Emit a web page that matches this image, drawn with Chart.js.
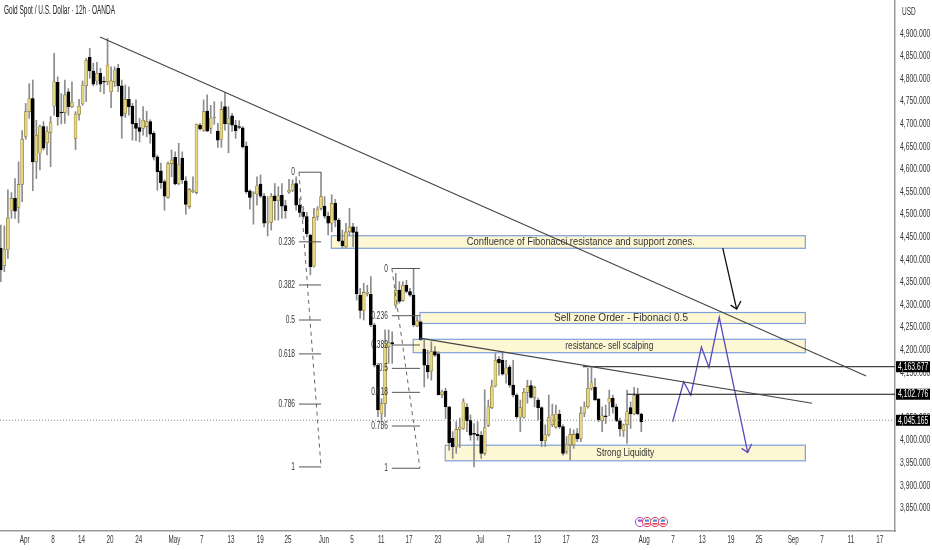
<!DOCTYPE html>
<html>
<head>
<meta charset="utf-8">
<title>Gold Spot / U.S. Dollar</title>
<script src="https://cdn.jsdelivr.net/npm/chart.js@4/dist/chart.umd.min.js"></script>
<style>
  html, body { margin: 0; padding: 0; background: #fff; }
  canvas { display: block; }
</style>
</head>
<body>
<canvas id="goldChart" width="932" height="550"></canvas>
<script>
const FONT = '"Liberation Sans", sans-serif';

// 12h candles
const opens = [4426,4387,4423,4510,4536,4516,4567,4673,4728,4757,
  4617,4636,4695,4659,4681,4740,4793,4727,4726,4772,
  4739,4669,4722,4745,4785,4848,4818,4796,4813,4795,
  4794,4772,4794,4824,4785,4724,4755,4740,4702,4693,
  4691,4695,4706,4680,4628,4597,4573,4538,4613,4627,
  4569,4625,4575,4518,4551,4549,4698,4687,4729,4691,
  4714,4685,4667,4739,4702,4719,4698,4694,4692,4652,
  4553,4546,4546,4568,4541,4482,4483,4542,4531,4543,
  4520,4550,4554,4569,4521,4505,4496,4455,4386,4496,
  4514,4519,4497,4481,4525,4488,4442,4429,4462,4473,
  4462,4322,4288,4326,4324,4256,4167,4059,4082,4208,
  4217,4300,4333,4310,4344,4330,4322,4254,4263,4202,
  4167,4154,4197,4192,4102,4110,4075,4005,3986,4025,
  4027,4074,4045,4016,4014,4012,3972,4034,4073,4121,
  4180,4178,4147,4163,4123,4101,4052,4052,4107,4122,
  4096,4090,4073,4000,4013,4035,4030,4059,4031,3976,
  3991,3991,4016,4005,4061,4075,4116,4118,4092,4044,
  4055,4085,4094,4075,4044,4022,4035,4073,4059,4101,4059];
const closes = [4378,4423,4493,4536,4508,4567,4667,4728,4757,4617,
  4676,4695,4647,4684,4704,4794,4717,4725,4765,4739,
  4748,4723,4740,4787,4842,4818,4789,4813,4789,4793,
  4831,4796,4820,4785,4718,4755,4739,4701,4691,4684,
  4709,4706,4678,4627,4595,4571,4541,4613,4621,4568,
  4611,4577,4523,4556,4553,4700,4690,4728,4685,4714,
  4716,4665,4733,4701,4714,4698,4686,4693,4650,4551,
  4538,4547,4564,4541,4481,4483,4541,4531,4542,4519,
  4509,4554,4568,4521,4505,4496,4458,4385,4494,4512,
  4540,4497,4481,4525,4488,4442,4431,4462,4473,4461,
  4325,4288,4328,4327,4256,4167,4068,4082,4215,4217,
  4214,4333,4308,4344,4330,4322,4256,4265,4224,4167,
  4152,4197,4189,4102,4108,4075,3995,3986,4025,4030,
  4086,4044,4012,4014,4011,3972,4029,4075,4121,4178,
  4172,4147,4161,4123,4101,4053,4073,4107,4120,4096,
  4118,4073,4000,4013,4051,4057,4059,4031,3972,3991,
  4014,4014,4004,4061,4075,4116,4128,4090,4046,4055,
  4053,4094,4074,4044,4026,4035,4064,4059,4100,4059,4042];
const highs = [4477,4475,4555,4549,4580,4617,4686,4746,4790,4798,
  4709,4698,4706,4695,4717,4857,4805,4768,4798,4779,
  4794,4728,4755,4796,4846,4868,4835,4837,4824,4805,
  4890,4827,4827,4833,4798,4787,4783,4746,4754,4713,
  4739,4729,4710,4684,4632,4614,4577,4617,4643,4639,
  4658,4639,4584,4558,4584,4701,4702,4754,4765,4742,
  4750,4702,4750,4771,4739,4724,4709,4708,4695,4661,
  4555,4551,4584,4588,4547,4540,4547,4569,4562,4569,
  4532,4578,4577,4584,4536,4518,4505,4457,4514,4518,
  4594,4540,4506,4544,4534,4492,4466,4481,4514,4481,
  4473,4337,4348,4344,4363,4260,4171,4093,4245,4245,
  4241,4370,4352,4352,4355,4337,4381,4274,4265,4222,
  4200,4219,4208,4197,4112,4116,4076,4020,4042,4050,
  4093,4082,4057,4038,4042,4020,4113,4090,4134,4193,
  4186,4197,4178,4167,4178,4104,4090,4116,4134,4133,
  4121,4094,4075,4035,4101,4081,4079,4068,4035,4009,
  4027,4024,4027,4075,4086,4160,4162,4138,4094,4075,
  4079,4112,4101,4081,4050,4037,4112,4086,4118,4116,4061];
const lows = [4352,4374,4403,4492,4492,4482,4529,4667,4713,4553,
  4580,4599,4643,4632,4606,4720,4698,4701,4702,4720,
  4737,4644,4709,4742,4750,4802,4785,4787,4772,4768,
  4787,4737,4783,4772,4669,4715,4720,4665,4664,4661,
  4676,4672,4658,4621,4554,4558,4510,4536,4584,4566,
  4566,4569,4501,4514,4549,4546,4687,4684,4684,4680,
  4700,4649,4649,4687,4637,4684,4669,4690,4647,4547,
  4512,4479,4521,4538,4473,4453,4466,4488,4488,4492,
  4492,4547,4551,4510,4495,4490,4451,4367,4384,4488,
  4510,4492,4455,4462,4473,4440,4426,4426,4455,4429,
  4311,4271,4267,4320,4252,4163,4053,4042,4053,4171,
  4171,4293,4304,4308,4327,4319,4252,4252,4222,4119,
  4138,4134,4186,4101,4095,4049,3979,3961,3972,3985,
  4025,4020,4001,3942,4001,3961,3968,4031,4071,4119,
  4145,4145,4127,4118,4097,4049,4020,4050,4083,4094,
  4075,4046,3987,3987,4010,4031,4027,4027,3968,3971,
  3957,3983,3998,3998,4053,4072,4112,4089,4042,4020,
  4038,4055,4061,4042,4010,4009,3994,4027,4057,4057,4020];

// time axis, x in bar numbers
const tickBars = [6.7,14.7,22.7,30.7,38.8,48.8,56.5,64.7,72.9,80.7,90.8,98.7,106.9,114.7,122.9,134.7,142.7,150.8,158.9,167,180.8,188.9,197.1,205.2,213.1,222.7,230.8,238.9,247];
const tickLabels = ['Apr','8','14','20','24','May','7','13','19','25','Jun','5','11','17','23','Jul','7','13','17','23','Aug','7','13','19','25','Sep','7','11','17'];

// drawn lines: bar number, price
const trendUpper = [[27.9,4893],[243.2,4143]];
const trendLower = [[117.8,4227],[228,4083]];
const levelHigh = [[163.6,4163.677],[251.3,4163.677]];
const levelMid = [[176,4102.776],[251.3,4102.776]];
const lastPrice = 4045.165;
const arrowShaft = [[202.9,4426],[206.8,4291]];
const arrowHead = [[205.1,4300],[206.8,4291],[208,4309]];
const projection = [[188.8,4042],[191.9,4130.5],[193.9,4101],[196.9,4207],[199,4162],[201.9,4273],[209.9,3974]];
const projectionHead = [[208.2,3983],[209.9,3974],[211,3993]];

// fib tools
const fibLeftBars = [83.8,90];
const fibLeftLabels = ['0','0.236','0.382','0.5','0.618','0.786','1'];
const fibLeftPrices = [4594,4440,4344.5,4267,4192,4081,3942];
const fibRightBars = [109.9,117.8];
const fibRightLabels = ['0','0.236','0.382','0.5','0.618','0.786','1'];
const fibRightPrices = [4381,4276.5,4211.7,4160,4107,4032.5,3939];

// zones
const zoneLabels = ['Confluence of Fibonacci resistance and support zones.','Sell zone Order - Fibonaci 0.5','resistance- sell scalping','Strong Liquidity'];
const zoneStart = [92.9,117.8,115.9,124.9];
const zoneEnd = [226.1,226.1,226.1,226.1];
const zoneTop = [4453.5,4283.6,4224.3,3990];
const zoneBottom = [4425.7,4259.3,4194.7,3955.5];
const zoneTextBar = [163,174.3,171,175.5];
const zoneTextWidth = [228,134,88,58];

const badgePrices = [4163.677,4102.776,4045.165];

const bars = opens.map((_, i) => i);
const pts = a => a.map(p => ({ x: p[0], y: p[1] }));
const money = v => v.toLocaleString('en-US', { minimumFractionDigits: 3 });

// no condensed face is installed, so squeeze with fillText's maxWidth
function narrow(ctx, text, x, y, factor) {
  ctx.fillText(text, x, y, ctx.measureText(text).width * factor);
}

function line(points, color, width, dash) {
  return {
    type: 'line', data: pts(points), borderColor: color, borderWidth: width,
    borderDash: dash || [], pointRadius: 0, tension: 0, fill: false, order: 0
  };
}

const fibLines = (fibBars, prices) => prices.map(p => line([[fibBars[0], p], [fibBars[1], p]], '#555', 1));

// zones go under the candles
const zonePlugin = {
  id: 'zones',
  beforeDatasetsDraw(chart) {
    const { ctx, scales: { x, y } } = chart;
    ctx.save();
    zoneLabels.forEach((_, i) => {
      const l = x.getPixelForValue(zoneStart[i]), r = x.getPixelForValue(zoneEnd[i]);
      const t = y.getPixelForValue(zoneTop[i]), b = y.getPixelForValue(zoneBottom[i]);
      ctx.fillStyle = '#fdf8d3';
      ctx.fillRect(l, t, r - l, b - t);
      ctx.strokeStyle = '#7e9fd8';
      ctx.lineWidth = 1.2;
      ctx.strokeRect(l, t, r - l, b - t);
    });
    ctx.restore();
  }
};

// texts and price badges
const textPlugin = {
  id: 'texts',
  afterDatasetsDraw(chart) {
    const { ctx, scales: { x, y } } = chart;
    ctx.save();
    ctx.textBaseline = 'middle';

    ctx.fillStyle = '#333';
    ctx.textAlign = 'center';
    ctx.font = '11.5px ' + FONT;
    zoneLabels.forEach((t, i) => {
      ctx.fillText(t, x.getPixelForValue(zoneTextBar[i]), y.getPixelForValue((zoneTop[i] + zoneBottom[i]) / 2), zoneTextWidth[i]);
    });

    ctx.font = '10.5px ' + FONT;
    x.ticks.forEach((t, i) => narrow(ctx, tickLabels[i], x.getPixelForValue(t.value), 540, 0.6));

    ctx.textAlign = 'right';
    ctx.font = '11px ' + FONT;
    fibLeftLabels.forEach((t, i) => narrow(ctx, t, x.getPixelForValue(fibLeftBars[0]) - 4, y.getPixelForValue(fibLeftPrices[i]), 0.6));
    fibRightLabels.forEach((t, i) => narrow(ctx, t, x.getPixelForValue(fibRightBars[0]) - 4, y.getPixelForValue(fibRightPrices[i]), 0.6));

    // event icons above the time axis
    [640, 647, 655, 663].forEach((cx, i) => {
      ctx.beginPath();
      ctx.arc(cx, 522, 4.6, 0, Math.PI * 2);
      ctx.fillStyle = '#fff';
      ctx.fill();
      ctx.lineWidth = 1;
      ctx.strokeStyle = i === 0 ? '#a14fd0' : '#e0405a';
      ctx.stroke();
      ctx.fillStyle = i === 0 ? '#a14fd0' : '#3f8fe0';
      ctx.fillRect(cx - 2, 519.5, 4, 2.2);
      if (i > 0) { ctx.fillStyle = '#e0405a'; ctx.fillRect(cx - 2.5, 523, 5, 1.6); }
    });

    ctx.fillStyle = '#222';
    ctx.textAlign = 'left';
    ctx.font = '12px ' + FONT;
    ctx.fillText('Gold Spot / U.S. Dollar · 12h · OANDA', 4, 11, 111);

    ctx.fillStyle = '#333';
    ctx.font = '10px ' + FONT;
    narrow(ctx, 'USD', 902, 12, 0.65);
    y.ticks.filter(t => t.value <= 4900).forEach(t => narrow(ctx, money(t.value), 900, y.getPixelForValue(t.value), 0.68));

    badgePrices.forEach(p => {
      const py = y.getPixelForValue(p);
      ctx.fillStyle = '#000';
      ctx.fillRect(896, py - 5.5, 34, 11);
      ctx.fillStyle = '#fff';
      narrow(ctx, money(p), 898, py + 0.5, 0.68);
    });
    ctx.restore();
  }
};

new Chart(document.getElementById('goldChart'), {
  data: {
    datasets: [
      line(trendUpper, '#444', 1.1),
      line(trendLower, '#444', 1.1),
      line(levelHigh, '#444', 1.3),
      line(levelMid, '#111', 1.1),
      line([[-0.22, lastPrice], [251.3, lastPrice]], '#888', 1, [1, 2]),
      line([[fibLeftBars[0], fibLeftPrices[0]], [fibLeftBars[1], fibLeftPrices[6]]], '#666', 1, [4, 4]),
      line([[fibRightBars[0], fibRightPrices[0]], [fibRightBars[1], fibRightPrices[6]]], '#666', 1, [4, 4]),
      ...fibLines(fibLeftBars, fibLeftPrices),
      ...fibLines(fibRightBars, fibRightPrices),
      line(arrowShaft, '#111', 1.3),
      line(arrowHead, '#111', 1.3),
      line(projection, '#5d49b8', 1.3),
      line(projectionHead, '#5d49b8', 1.3),
      // wicks
      {
        type: 'bar', grouped: false, order: 2, barThickness: 1,
        data: bars.map(i => ({ x: i, y: [lows[i], highs[i]] })),
        backgroundColor: '#8c8c8c', borderWidth: 0
      },
      // bodies
      {
        type: 'bar', grouped: false, order: 1, barThickness: 3,
        data: bars.map(i => ({ x: i, y: [opens[i], closes[i]] })),
        backgroundColor: c => closes[c.dataIndex] >= opens[c.dataIndex] ? '#e6d581' : '#000',
        borderColor: c => closes[c.dataIndex] >= opens[c.dataIndex] ? '#7c7136' : '#000',
        borderWidth: 0.6, borderSkipped: false, minBarLength: 1
      }
    ]
  },
  options: {
    responsive: false,
    animation: false,
    devicePixelRatio: 1,
    layout: { padding: 0 },
    plugins: { legend: { display: false }, tooltip: { enabled: false } },
    scales: {
      x: {
        type: 'linear', min: -0.22, max: 251.3, offset: false,
        grid: { display: false, drawTicks: false },
        border: { color: '#9a9a9a', width: 1.5 },
        afterBuildTicks(s) { s.ticks = tickBars.map(v => ({ value: v })); },
        afterFit(s) { s.height = 19; },
        ticks: { display: false, autoSkip: false }
      },
      y: {
        type: 'linear', position: 'right', min: 3800.2, max: 4975,
        grid: { display: false, drawTicks: false },
        border: { color: '#9a9a9a', width: 1.5 },
        afterFit(s) { s.width = 37; },
        ticks: { display: false, stepSize: 50, includeBounds: false, autoSkip: false }
      }
    }
  },
  plugins: [zonePlugin, textPlugin]
});
</script>
</body>
</html>
